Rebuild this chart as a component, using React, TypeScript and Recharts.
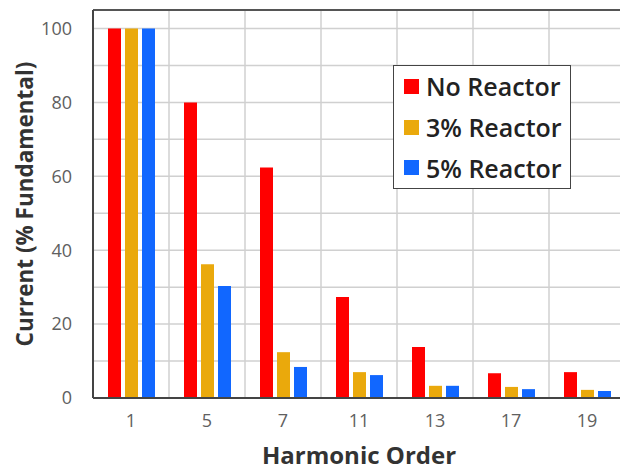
import { Bar, BarChart, CartesianGrid, Legend, ReferenceLine, XAxis, YAxis } from "recharts";

const harmonics = ["1", "5", "7", "11", "13", "17", "19"];
const noReactor = [100, 80, 62.4, 27.3, 13.8, 6.7, 7];
const reactor3 = [100, 36.2, 12.4, 7, 3.3, 3, 2.2];
const reactor5 = [100, 30.3, 8.4, 6.2, 3.3, 2.4, 1.9];
const yTicks = [0, 10, 20, 30, 40, 50, 60, 70, 80, 90, 100];

const series = [
  { key: "noReactor", name: "No Reactor", color: "#ff0000" },
  { key: "reactor3", name: "3% Reactor", color: "#eaa90c" },
  { key: "reactor5", name: "5% Reactor", color: "#1167ff" },
];

const data = harmonics.map((h, i) => ({
  harmonic: h,
  noReactor: noReactor[i],
  reactor3: reactor3[i],
  reactor5: reactor5[i],
}));

const font = "'Open Sans', sans-serif";

const LegendBox = () => (
  <div
    style={{
      boxSizing: "border-box",
      width: 178,
      height: 124,
      border: "1.5px solid #444",
      background: "#fff",
      padding: "0 0 0 10px",
      fontFamily: font,
      display: "flex",
      flexDirection: "column",
      justifyContent: "center",
    }}
  >
    {series.map((s) => (
      <div key={s.key} style={{ display: "flex", alignItems: "center", height: 41 }}>
        <span style={{ width: 15, height: 15, background: s.color, marginRight: 7, flexShrink: 0 }} />
        <span style={{ fontSize: 25, fontWeight: 600, color: "#222", whiteSpace: "nowrap" }}>{s.name}</span>
      </div>
    ))}
  </div>
);

const YLabel = ({ viewBox }: any) => {
  const cx = 33;
  const cy = viewBox.y + viewBox.height / 2;
  return (
    <text
      x={cx}
      y={cy}
      transform={`rotate(-90, ${cx}, ${cy})`}
      textAnchor="middle"
      fill="#333"
      fontSize={22.5}
      fontWeight={700}
      fontFamily={font}
    >
      Current (% Fundamental)
    </text>
  );
};

export default function App() {
  return (
    <div style={{ position: "absolute", left: 0, top: 0, width: 620, height: 470, overflow: "hidden", background: "#fff" }}>
      <BarChart
        width={640}
        height={470}
        data={data}
        margin={{ top: 10, right: 15, bottom: 0, left: 0 }}
        barSize={13}
        barGap={4}
      >
        <CartesianGrid
          stroke="#d0d0d0"
          strokeWidth={1.5}
          verticalCoordinatesGenerator={({ offset }: any) =>
            [1, 2, 3, 4, 5, 6].map((i) => offset.left + (i * offset.width) / harmonics.length)
          }
        />
        <XAxis
          dataKey="harmonic"
          height={72}
          tickLine={false}
          tickMargin={10}
          axisLine={{ stroke: "#444", strokeWidth: 2 }}
          tick={{ fill: "#606060", fontSize: 18, fontFamily: font }}
          label={{
            value: "Harmonic Order",
            position: "insideBottom",
            offset: 6,
            fill: "#333",
            fontSize: 24,
            fontWeight: 700,
            fontFamily: font,
          }}
        />
        <YAxis
          width={93}
          domain={[0, 105]}
          ticks={yTicks}
          tickFormatter={(v: number) => (v % 20 === 0 ? String(v) : "")}
          tickLine={false}
          tickMargin={15}
          axisLine={{ stroke: "#444", strokeWidth: 2 }}
          tick={{ fill: "#606060", fontSize: 18, fontFamily: font }}
          label={<YLabel />}
        />
        <ReferenceLine y={105} stroke="#555" strokeWidth={2} />
        <Legend
          layout="horizontal"
          align="center"
          verticalAlign="middle"
          content={<LegendBox />}
          wrapperStyle={{ position: "absolute", left: 393, top: 65, width: 178, height: 124 }}
        />
        {series.map((s) => (
          <Bar key={s.key} dataKey={s.key} name={s.name} fill={s.color} isAnimationActive={false} />
        ))}
      </BarChart>
    </div>
  );
}
